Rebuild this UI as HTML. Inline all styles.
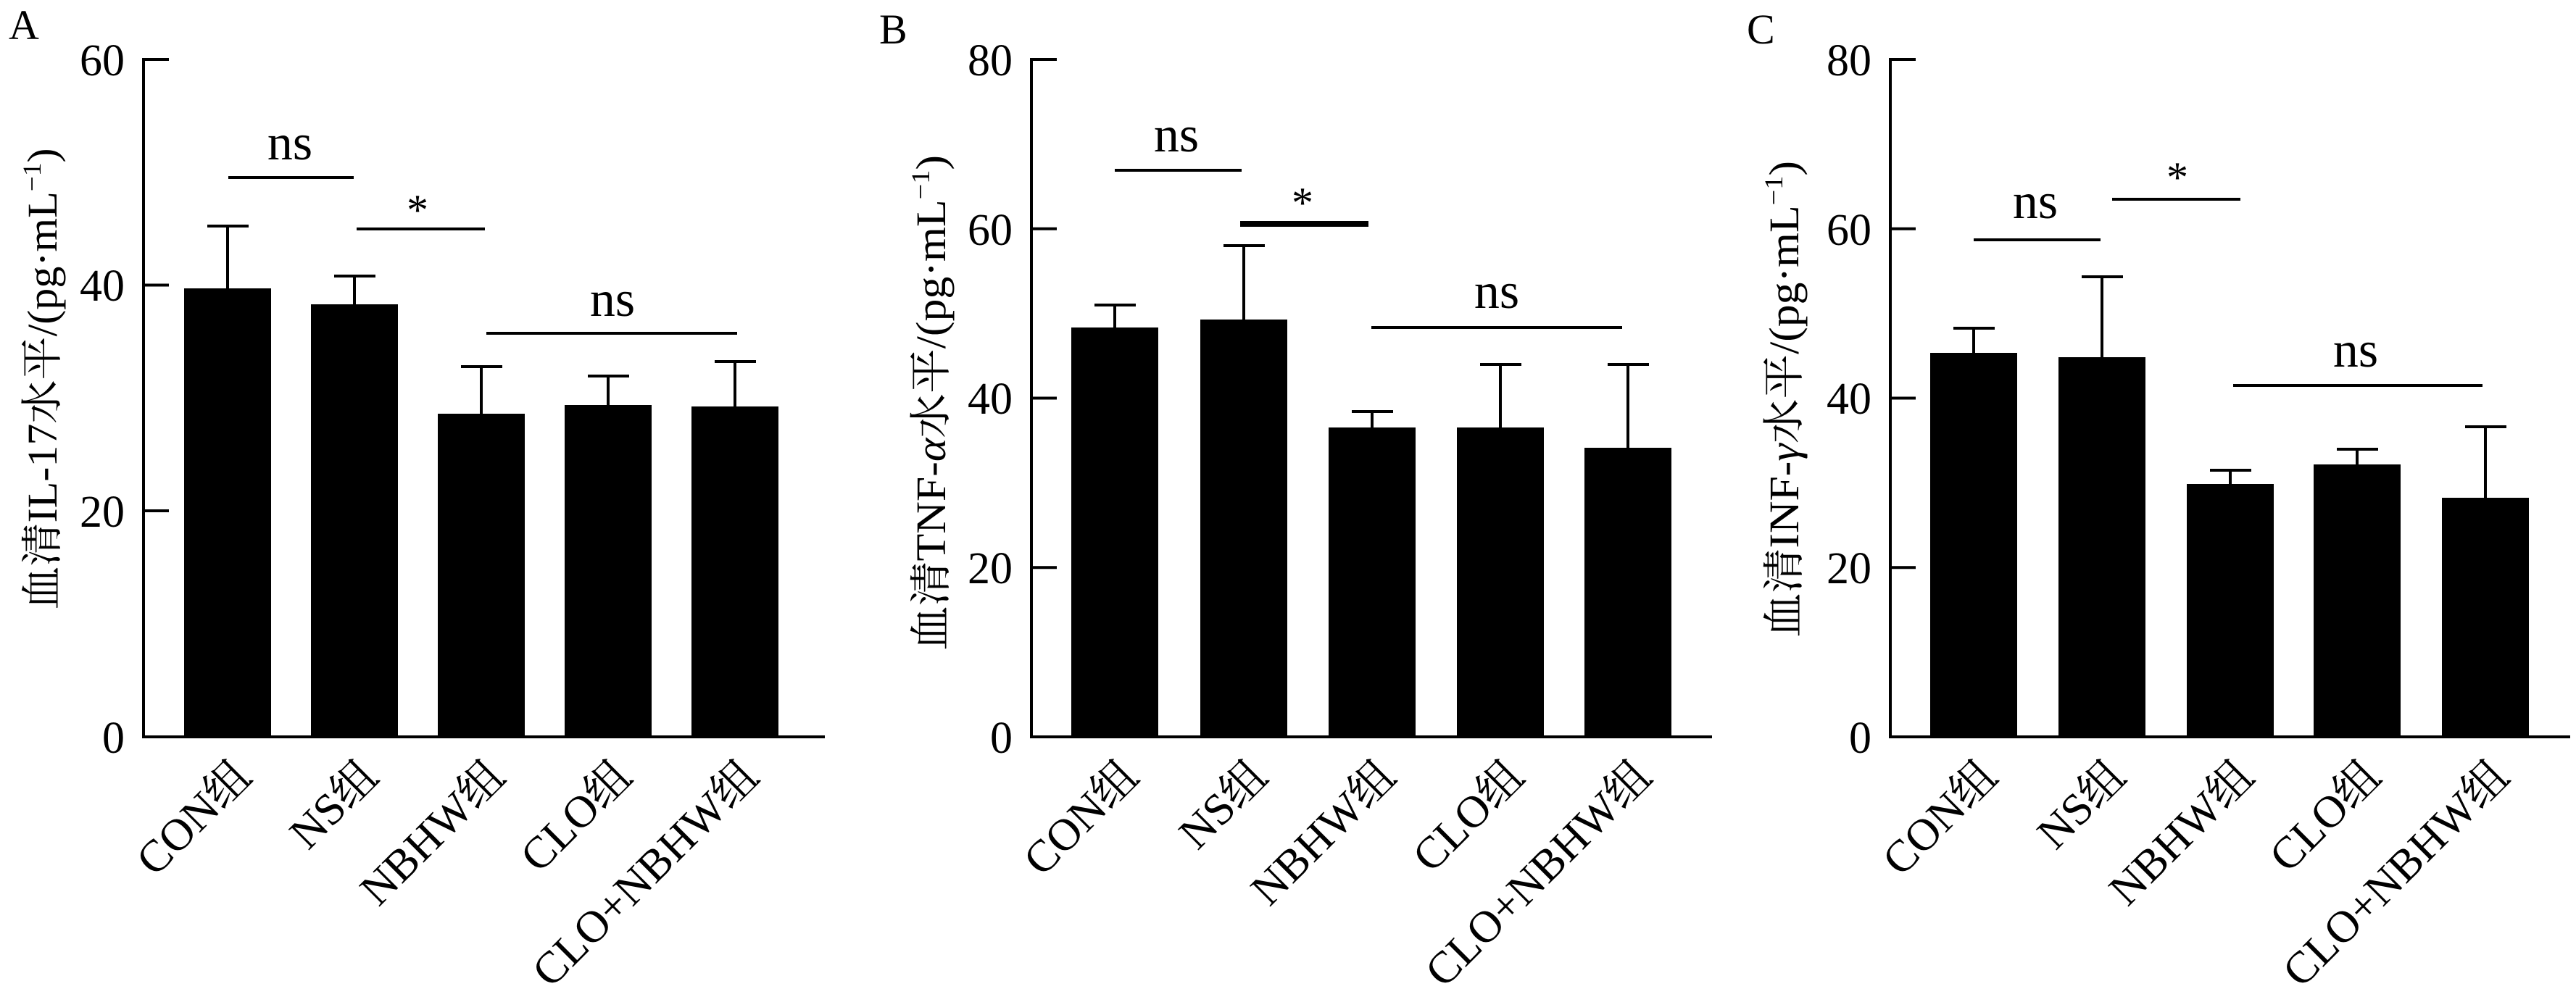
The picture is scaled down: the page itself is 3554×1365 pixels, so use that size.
<!DOCTYPE html>
<html><head><meta charset="utf-8"><style>
html,body{margin:0;padding:0;background:#fff;}
svg{display:block;}
text{font-family:"Liberation Serif","Noto Serif CJK SC","Noto Sans CJK SC",serif;fill:#000;}
</style></head><body>
<svg width="3554" height="1365" viewBox="0 0 3554 1365" xmlns="http://www.w3.org/2000/svg">
<g stroke="#000" stroke-width="4" fill="none">
<path d="M198,80 V1017 H1138"/>
<path d="M198,82 H233 M198,393.5 H233 M198,705 H233"/>
<path d="M1423,80 V1017 H2362"/>
<path d="M1423,82 H1458 M1423,315.75 H1458 M1423,549.5 H1458 M1423,783.25 H1458"/>
<path d="M2608,80 V1017 H3546"/>
<path d="M2608,82 H2643 M2608,315.75 H2643 M2608,549.5 H2643 M2608,783.25 H2643"/>
</g>
<g font-size="62" text-anchor="end">
<text x="172" y="104">60</text><text x="172" y="415">40</text><text x="172" y="727">20</text><text x="172" y="1039">0</text>
<text x="1397" y="104">80</text><text x="1397" y="338">60</text><text x="1397" y="571">40</text><text x="1397" y="805">20</text><text x="1397" y="1039">0</text>
<text x="2582" y="104">80</text><text x="2582" y="338">60</text><text x="2582" y="571">40</text><text x="2582" y="805">20</text><text x="2582" y="1039">0</text>
</g>
<g font-size="58"><text x="12" y="54">A</text><text x="1213" y="60">B</text><text x="2410" y="60">C</text></g>

<g fill="#000">
<rect x="254" y="398" width="120" height="619"/>
<rect x="429" y="420" width="120" height="597"/>
<rect x="604" y="571" width="120" height="446"/>
<rect x="779" y="559" width="120" height="458"/>
<rect x="954" y="561" width="120" height="456"/>
</g>
<g stroke="#000" stroke-width="4" fill="none">
<path d="M314,398 V312 M286,312 H343"/>
<path d="M489,420 V381 M461,381 H518"/>
<path d="M664,571 V506 M636,506 H693"/>
<path d="M839,559 V519 M811,519 H868"/>
<path d="M1014,561 V499 M986,499 H1043"/>
<path d="M315,245 H488 M492,316 H669 M671,460 H1017"/>
</g>
<g font-size="70" text-anchor="middle">
<text x="400" y="220">ns</text><text x="845" y="436">ns</text>
</g>
<text x="576" y="310" font-size="60" text-anchor="middle">*</text>

<g fill="#000">
<rect x="1478" y="452" width="120" height="565"/>
<rect x="1656" y="441" width="120" height="576"/>
<rect x="1833" y="590" width="120" height="427"/>
<rect x="2010" y="590" width="120" height="427"/>
<rect x="2186" y="618" width="120" height="399"/>
</g>
<g stroke="#000" stroke-width="4" fill="none">
<path d="M1538,452 V421 M1510,421 H1567"/>
<path d="M1716,441 V339 M1688,339 H1745"/>
<path d="M1893,590 V568 M1865,568 H1922"/>
<path d="M2070,590 V503 M2042,503 H2099"/>
<path d="M2246,618 V503 M2218,503 H2275"/>
<path d="M1538,235 H1713 M1892,452 H2238"/>
<path d="M1711,309 H1888" stroke-width="8"/>
</g>
<g font-size="70" text-anchor="middle">
<text x="1623" y="209">ns</text><text x="2065" y="425">ns</text>
</g>
<text x="1797" y="300" font-size="60" text-anchor="middle">*</text>

<g fill="#000">
<rect x="2663" y="487" width="120" height="530"/>
<rect x="2840" y="493" width="120" height="524"/>
<rect x="3017" y="668" width="120" height="349"/>
<rect x="3192" y="641" width="120" height="376"/>
<rect x="3369" y="687" width="120" height="330"/>
</g>
<g stroke="#000" stroke-width="4" fill="none">
<path d="M2723,487 V453 M2695,453 H2752"/>
<path d="M2900,493 V382 M2872,382 H2929"/>
<path d="M3077,668 V649 M3049,649 H3106"/>
<path d="M3252,641 V620 M3224,620 H3281"/>
<path d="M3429,687 V589 M3401,589 H3458"/>
<path d="M2723,331 H2898 M2914,275 H3091 M3081,532 H3425"/>
</g>
<g font-size="70" text-anchor="middle">
<text x="2808" y="301">ns</text><text x="3250" y="506">ns</text>
</g>
<text x="3004" y="265" font-size="60" text-anchor="middle">*</text>

<text font-size="58" text-anchor="middle" textLength="637" lengthAdjust="spacingAndGlyphs" transform="translate(78,523) rotate(-90)">血清IL-17水平/(pg·mL<tspan font-size="36" dy="-22">−1</tspan><tspan dy="22">)</tspan></text>
<text font-size="58" text-anchor="middle" textLength="684" lengthAdjust="spacingAndGlyphs" transform="translate(1304,556) rotate(-90)">血清TNF-<tspan font-style="italic">α</tspan>水平/(pg·mL<tspan font-size="36" dy="-22">−1</tspan><tspan dy="22">)</tspan></text>
<text font-size="58" text-anchor="middle" textLength="658" lengthAdjust="spacingAndGlyphs" transform="translate(2481,551) rotate(-90)">血清INF-<tspan font-style="italic">γ</tspan>水平/(pg·mL<tspan font-size="36" dy="-22">−1</tspan><tspan dy="22">)</tspan></text>

<g font-size="62" text-anchor="end">
<text transform="translate(350,1075) rotate(-45)">CON组</text>
<text transform="translate(525,1075) rotate(-45)">NS组</text>
<text transform="translate(700,1075) rotate(-45)">NBHW组</text>
<text transform="translate(875,1075) rotate(-45)">CLO组</text>
<text transform="translate(1050,1075) rotate(-45)">CLO+NBHW组</text>

<text transform="translate(1574,1075) rotate(-45)">CON组</text>
<text transform="translate(1752,1075) rotate(-45)">NS组</text>
<text transform="translate(1929,1075) rotate(-45)">NBHW组</text>
<text transform="translate(2106,1075) rotate(-45)">CLO组</text>
<text transform="translate(2282,1075) rotate(-45)">CLO+NBHW组</text>

<text transform="translate(2759,1075) rotate(-45)">CON组</text>
<text transform="translate(2936,1075) rotate(-45)">NS组</text>
<text transform="translate(3113,1075) rotate(-45)">NBHW组</text>
<text transform="translate(3288,1075) rotate(-45)">CLO组</text>
<text transform="translate(3465,1075) rotate(-45)">CLO+NBHW组</text>
</g>
</svg>
</body></html>
